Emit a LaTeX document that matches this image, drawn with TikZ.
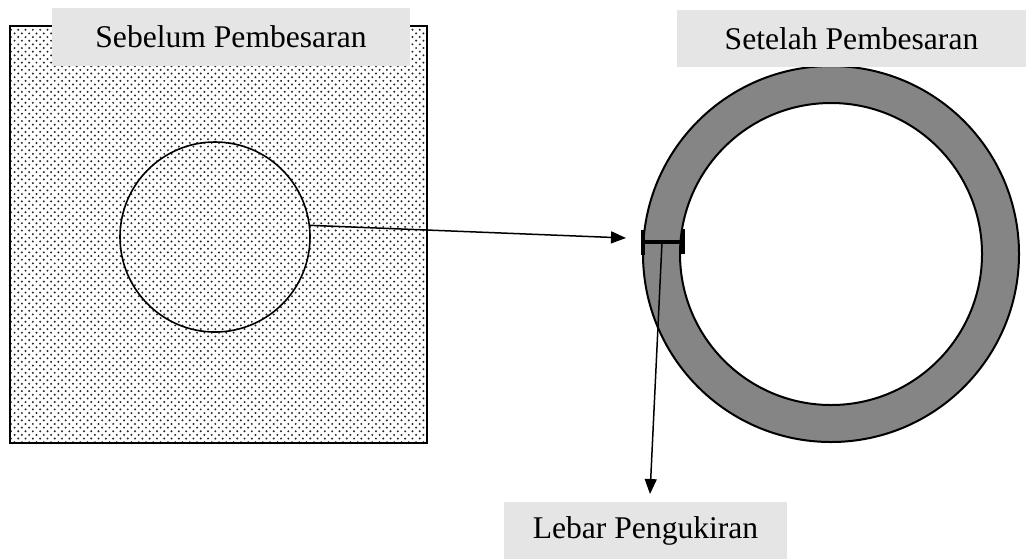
\documentclass[tikz,border=0pt]{standalone}
\usepackage{fontspec}
\setmainfont{Liberation Serif}
\usetikzlibrary{arrows.meta,positioning,calc,patterns}
\definecolor{tagfill}{HTML}{E5E5E5}
\definecolor{ringgray}{HTML}{858585}
\pgfdeclarepatternformonly{sparsedots}{\pgfqpoint{-1pt}{-1pt}}{\pgfqpoint{4pt}{4pt}}%
  {\pgfqpoint{3.65pt}{3.65pt}}%
  {\pgfpathcircle{\pgfqpoint{0pt}{0pt}}{.55pt}%
   \pgfpathcircle{\pgfqpoint{1.825pt}{1.825pt}}{.55pt}\pgfusepath{fill}}
\tikzset{tag/.style={fill=tagfill,inner sep=0pt,font=\fontsize{15.8}{19}\selectfont},
  pointer/.style={-{Triangle[length=7.5pt,width=6pt]},line width=.75pt},
  rim/.style={circle,draw,line width=1pt,inner sep=0pt}}
\begin{document}
\begin{tikzpicture}[x=.5pt,y=-.5pt]
\useasboundingbox (0,0) rectangle (1026,559);
% before
\node[draw,line width=1.2pt,pattern=sparsedots,pattern color=black!85,
  minimum size=208.5pt,inner sep=0pt] (plate) at (218.5,234.5) {};
\node[rim,line width=.8pt,minimum size=95pt] (pore) at (215,237) {};
% after
\node[rim,fill=ringgray,minimum size=188pt] (outer) at (831,254) {};
\node[rim,fill=white,minimum size=151pt] (inner) at (831,254) {};
\coordinate (wl) at (643,242);
\coordinate (wr) at (683,242);
\coordinate (wm) at (662,242);
\draw[line width=2pt] (wl)--(wr);
\draw[line width=2pt] ($(wl)+(0,-12)$)--($(wl)+(0,13)$);
\draw[line width=2pt] ($(wr)+(0,-13)$)--($(wr)+(0,12)$);
% labels
\node[tag,minimum width=179pt,minimum height=29pt] (before) at (231,36.5) {Sebelum Pembesaran};
\node[tag,minimum width=174.5pt,minimum height=28.5pt] (after) at (851.5,38.5) {Setelah Pembesaran};
\node[tag,minimum width=141.5pt,minimum height=28.5pt] (width) at (645.5,530.5) {Lebar Pengukiran};
\coordinate (hit) at (626,238);
\coordinate (drop) at (650,494);
\draw[pointer] (pore.7)--(hit);
\draw[pointer] (wm)--(drop);
\end{tikzpicture}
\end{document}
